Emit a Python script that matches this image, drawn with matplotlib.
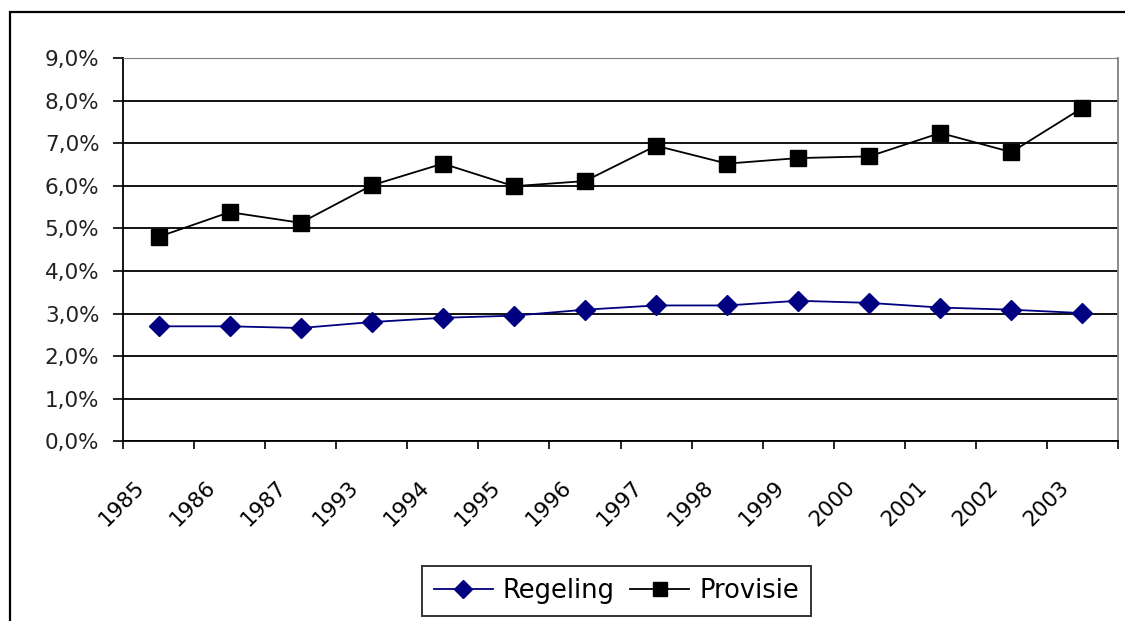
import matplotlib
matplotlib.use("Agg")
import matplotlib.pyplot as plt
import matplotlib.transforms as mtransforms
from matplotlib.patches import Rectangle

# data (percent)
years = ["1985", "1986", "1987", "1993", "1994", "1995", "1996",
         "1997", "1998", "1999", "2000", "2001", "2002", "2003"]
regeling = [2.70, 2.70, 2.66, 2.80, 2.90, 2.95, 3.09,
            3.19, 3.19, 3.30, 3.25, 3.14, 3.09, 3.01]
provisie = [4.80, 5.38, 5.13, 6.01, 6.52, 5.99, 6.11,
            6.94, 6.52, 6.65, 6.69, 7.24, 6.79, 7.83]
y_ticks = [0, 1, 2, 3, 4, 5, 6, 7, 8, 9]
y_labels = ["0,0%", "1,0%", "2,0%", "3,0%", "4,0%",
            "5,0%", "6,0%", "7,0%", "8,0%", "9,0%"]


def main():
    W, H = 1125, 621
    fig = plt.figure(figsize=(W / 100, H / 100), dpi=100)
    plt.rcParams["font.family"] = ["DejaVu Sans"]

    # plot area in pixels
    left, right, top, bottom = 123, 1118, 58, 441.3
    ax = fig.add_axes([left / W, 1 - bottom / H, (right - left) / W, (bottom - top) / H])

    # outer chart frame (cut off at right and bottom)
    frame = Rectangle((10 / W, -0.1), 1.2, 1 - 12 / H + 0.1, transform=fig.transFigure,
                      fill=False, ec="black", lw=1.6)
    fig.add_artist(frame)

    xs = [i + 0.5 for i in range(len(years))]
    ax.plot(xs, regeling, color="#000080", lw=1.3, marker="D", ms=10,
            mfc="#000080", mec="#000080", label="Regeling", zorder=3)
    ax.plot(xs, provisie, color="black", lw=1.3, marker="s", ms=11.5,
            mfc="black", mec="black", label="Provisie", zorder=3)

    ax.set_xlim(0, len(years))
    ax.set_ylim(0, 9)

    # y axis
    ax.set_yticks(y_ticks)
    ax.set_yticklabels(y_labels, fontsize=15.5, color="#222222")
    ax.yaxis.grid(True, color="black", lw=1.3)
    ax.set_axisbelow(True)
    ax.tick_params(axis="y", length=7, width=1.2, pad=10, direction="out")

    # x axis: ticks between categories, labels centered
    ax.set_xticks(range(len(years) + 1))
    ax.set_xticklabels([])
    ax.set_xticks(xs, minor=True)
    ax.set_xticklabels(years, minor=True, fontsize=15.5, rotation=45,
                       rotation_mode="anchor", ha="right", va="center")
    ax.tick_params(axis="x", which="major", length=6, width=1.2, direction="out")
    ax.tick_params(axis="x", which="minor", length=0, pad=31)
    shift = mtransforms.ScaledTranslation(-17 / 100, 0, fig.dpi_scale_trans)
    for lab in ax.get_xticklabels(minor=True):
        lab.set_transform(lab.get_transform() + shift)

    ax.spines["left"].set_color("black")
    ax.spines["left"].set_linewidth(1.3)
    ax.spines["bottom"].set_color("black")
    ax.spines["bottom"].set_linewidth(1.3)
    ax.spines["top"].set_color("#808080")
    ax.spines["right"].set_color("#808080")
    ax.spines["right"].set_linewidth(1.3)

    leg = ax.legend(loc="center", bbox_to_anchor=(616.5 / W, 1 - 591 / H),
                    bbox_transform=fig.transFigure, ncol=2, fontsize=18.5,
                    frameon=True, fancybox=False, shadow=False,
                    handlelength=2.3, handletextpad=0.4, columnspacing=0.6,
                    borderpad=0.45, borderaxespad=0, markerscale=0.9)
    leg.get_frame().set_edgecolor("black")
    leg.get_frame().set_linewidth(1.4)

    fig.savefig("out.png", dpi=100)


if __name__ == "__main__":
    main()
